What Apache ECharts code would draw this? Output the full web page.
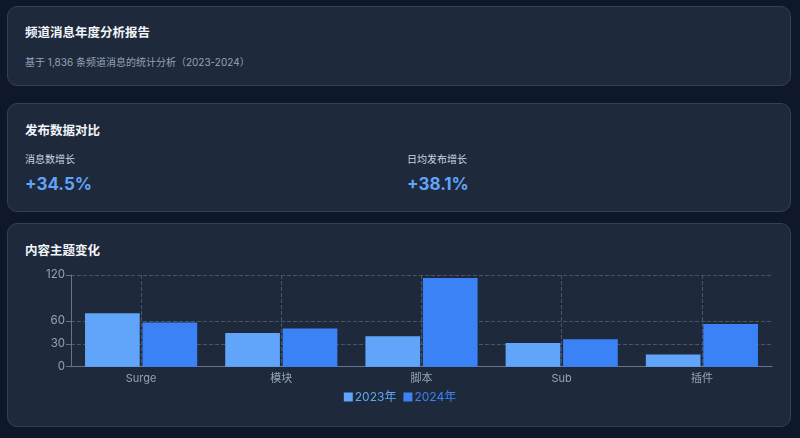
<!DOCTYPE html>
<html><head><meta charset="utf-8">
<script src="https://cdn.jsdelivr.net/npm/echarts@6/dist/echarts.min.js"></script>
<style>
html,body{margin:0;padding:0;width:800px;height:438px;background:#0f172a;overflow:hidden;font-family:Inter,"Noto Sans CJK SC",sans-serif;}
.card{position:absolute;left:7px;width:784px;background:#1e293b;border:1px solid #334155;border-radius:10px;box-sizing:border-box;}
.t{position:absolute;color:#f1f5f9;font-weight:700;font-size:12.5px;white-space:nowrap;}
.s{position:absolute;color:#94a3b8;font-size:10px;white-space:nowrap;}
.l{position:absolute;color:#cbd5e1;font-size:10px;white-space:nowrap;}
.v{position:absolute;color:#60a5fa;font-size:17px;font-weight:700;white-space:nowrap;}
#chart{position:absolute;left:0;top:0;width:800px;height:438px;}
</style></head>
<body>
<div class="card" style="top:6px;height:80px;"></div>
<div class="t" style="left:25px;top:22px;">频道消息年度分析报告</div>
<div class="s" style="left:25px;top:54px;">基于 1,836 条频道消息的统计分析（2023-2024）</div>

<div class="card" style="top:103px;height:109px;"></div>
<div class="t" style="left:25px;top:120px;">发布数据对比</div>
<div class="l" style="left:25px;top:151px;">消息数增长</div>
<div class="v" style="left:25px;top:174px;">+34.5%</div>
<div class="l" style="left:407px;top:151px;">日均发布增长</div>
<div class="v" style="left:407px;top:174px;">+38.1%</div>

<div class="card" style="top:223px;height:204px;"></div>
<div class="t" style="left:25px;top:240px;">内容主题变化</div>
<div id="chart"></div>
<script>
const categories = ["Surge", "模块", "脚本", "Sub", "插件"];
const seriesNames = ["2023年", "2024年"];
const values2023 = [70, 44, 40, 31, 16];
const values2024 = [58, 50, 116, 36, 56];
const yTicks = [0, 30, 60, 120];

const chart = echarts.init(document.getElementById('chart'), null, {renderer: 'canvas'});
const axisColor = '#94a3b8';
chart.setOption({
  backgroundColor: 'transparent',
  textStyle: {fontFamily: 'Inter, "Noto Sans CJK SC", sans-serif'},
  grid: {left: 71, right: 28, top: 275, bottom: 71.3, containLabel: false},
  legend: {
    data: seriesNames, bottom: 30, left: 'center',
    itemWidth: 9, itemHeight: 9, itemGap: 7, icon: 'rect',
    textStyle: {fontSize: 12, color: 'inherit', padding: [0, 0, 0, -3]}
  },
  xAxis: {
    type: 'category', data: categories,
    axisLine: {lineStyle: {color: '#64748b'}},
    axisTick: {alignWithLabel: true, lineStyle: {color: '#64748b'}},
    axisLabel: {color: axisColor, fontSize: 11, margin: 6},
    splitLine: {show: true, alignWithLabel: true, lineStyle: {color: '#475569', type: 'dashed'}}
  },
  yAxis: {
    type: 'value', min: 0, max: 120, interval: 30,
    axisLine: {show: true, lineStyle: {color: '#64748b'}},
    axisTick: {show: true, customValues: yTicks, lineStyle: {color: '#64748b'}},
    axisLabel: {color: axisColor, fontSize: 11.5, customValues: yTicks, margin: 6},
    splitLine: {show: true, lineStyle: {color: '#475569', type: 'dashed'}}
  },
  series: [
    {name: seriesNames[0], type: 'bar', data: values2023, barCategoryGap: '20%', barGap: '5%', itemStyle: {color: '#60a5fa'}},
    {name: seriesNames[1], type: 'bar', data: values2024, barCategoryGap: '20%', barGap: '5%', itemStyle: {color: '#3b82f6'}}
  ]
});
</script>
</body></html>
